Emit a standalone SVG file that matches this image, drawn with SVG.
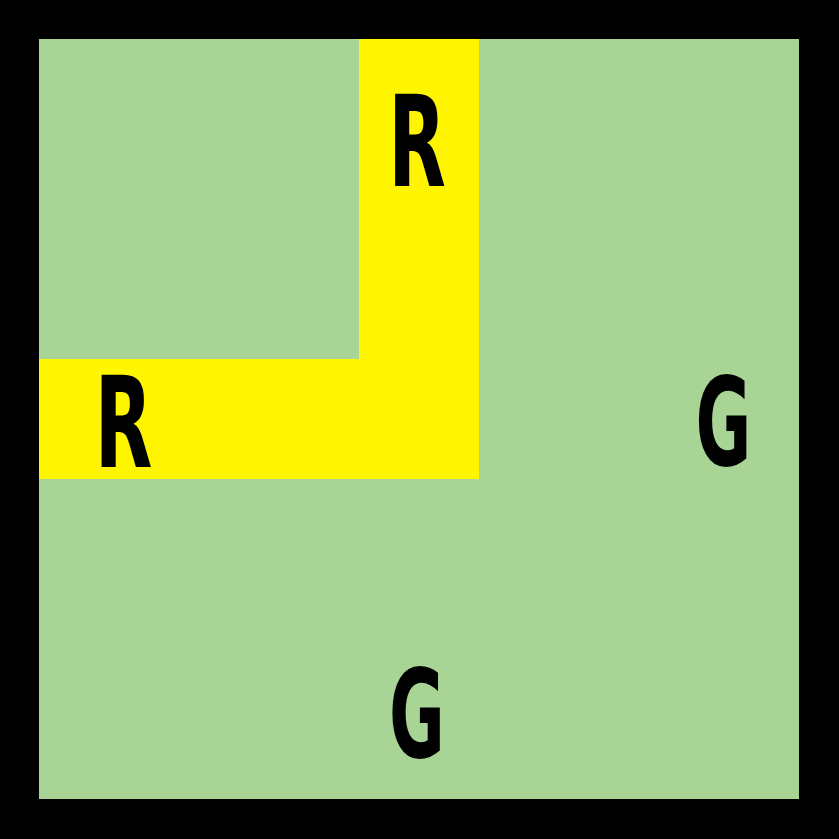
<svg xmlns="http://www.w3.org/2000/svg" width="839" height="839" viewBox="0 0 839 839">
<style>
.lbl{font-family:"DejaVu Sans","Liberation Sans",sans-serif;font-weight:bold;font-stretch:condensed;font-size:126px;fill:#000;text-anchor:middle}
</style>
<rect x="0" y="0" width="839" height="839" fill="#000"/>
<rect x="39" y="39" width="760" height="760" fill="#a8d595"/>
<g id="road">
<path d="M359 39 H479 V479 H39 V359 H359 Z" fill="#fff500"/>
</g>
<g id="r-top"><text class="lbl" transform="translate(417,186) scale(0.66,1)">R</text></g>
<g id="r-left"><text class="lbl" transform="translate(123.5,467) scale(0.66,1)">R</text></g>
<g id="g-right"><text class="lbl" transform="translate(723.5,465) scale(0.6,0.97)">G</text></g>
<g id="g-bottom"><text class="lbl" transform="translate(417,757) scale(0.6,0.97)">G</text></g>
</svg>
